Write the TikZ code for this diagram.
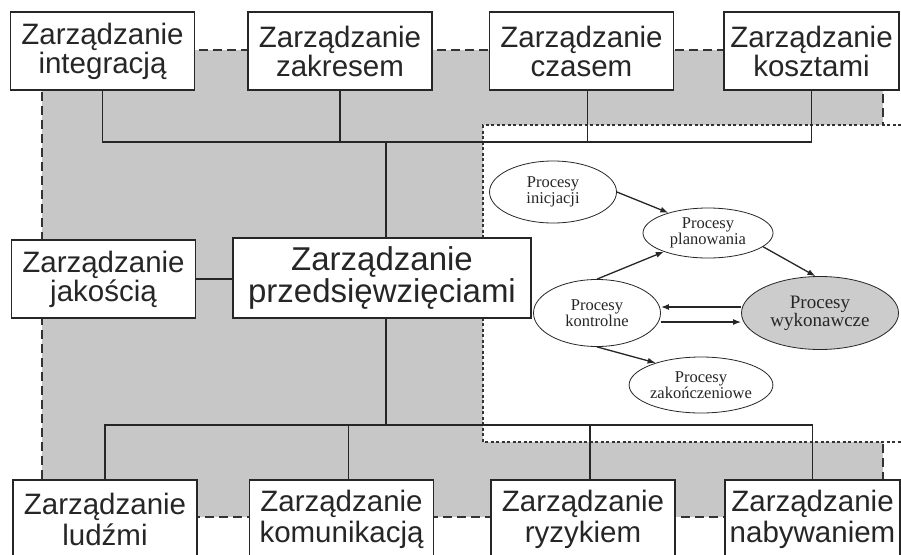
\documentclass[tikz,border=0pt]{standalone}
\usepackage{fontspec}
\setmainfont{Liberation Sans}
\newfontfamily\procfont{Liberation Serif}
\usetikzlibrary{arrows.meta,shapes.geometric}

\begin{document}
\begin{tikzpicture}[x=1pt, y=-1pt,
      box/.style={draw=black!85, line width=1.7pt, fill=white, text=black!85,
                  align=center, inner sep=0pt, minimum width=184pt, minimum height=78pt,
                  font=\fontsize{29.5}{29}\selectfont},
      bigbox/.style={box, minimum width=298pt, minimum height=80pt,
                  font=\fontsize{33}{32}\selectfont},
      proc/.style={ellipse, draw=black!85, line width=0.8pt, fill=white, text=black!85,
                  align=center, inner sep=0pt, font=\procfont\fontsize{16.5}{16}\selectfont},
      link/.style={draw=black!85, line width=1.7pt},
      arr/.style={-{Latex[length=8pt, width=6pt]}, draw=black!85, line width=1.3pt},
      greyarea/.style={fill=black!22, draw=black!80, dash pattern=on 9pt off 5pt, line width=1.4pt},
      cutout/.style={draw=black!80, dash pattern=on 3pt off 2.5pt, line width=1.1pt}]
    \useasboundingbox (0,0) rectangle (901,554);
    % shaded field, white part for the processes
    \draw[greyarea] (42,50) rectangle (883,517);
    \fill[white] (483,125) rectangle (901,442);
    \draw[cutout] (901,125) -- (483,125) -- (483,442) -- (901,442);

    \node[box] (integr) at (102.5,51) {Zarządzanie\\integracją};
    \node[box] (zakres) at (340,51) {Zarządzanie\\zakresem};
    \node[box] (czas) at (581.5,51) {Zarządzanie\\czasem};
    \node[box, minimum width=175pt] (koszt) at (811.5,51) {Zarządzanie\\kosztami};
    \node[box] (jakosc) at (103.5,279) {Zarządzanie\\jakością};
    \node[bigbox] (centre) at (382,278) {Zarządzanie\\przedsięwzięciami};
    \node[box, font=\fontsize{29.5}{31}\selectfont] (ludzie) at (105,519) {Zarządzanie\\ludźmi};
    \node[box, font=\fontsize{29.5}{31}\selectfont] (komun) at (341.5,519) {Zarządzanie\\komunikacją};
    \node[box, font=\fontsize{29.5}{31}\selectfont] (ryzyk) at (583,519) {Zarządzanie\\ryzykiem};
    \node[box, minimum width=175pt, font=\fontsize{29.5}{31}\selectfont] (nabyw) at (812.5,519)
      {Zarządzanie\\nabywaniem};

    \coordinate (topbus) at (0,142);
    \coordinate (botbus) at (0,425);
    \draw[link] (integr.south) |- (koszt.south |- topbus) -- (koszt.south);
    \draw[link] (zakres.south) -- (zakres.south |- topbus);
    \draw[link] ([xshift=6pt]czas.south) -- ([xshift=6pt]czas.south |- topbus);
    \draw[link] ([xshift=4pt]centre.north) -- ([xshift=4pt]centre.north |- topbus);
    \draw[link] ([xshift=4pt]centre.south) -- ([xshift=4pt]centre.south |- botbus);
    \draw[link] (ludzie.north) |- (nabyw.north |- botbus) -- (nabyw.north);
    \draw[link] ([xshift=7pt]komun.north) -- ([xshift=7pt]komun.north |- botbus);
    \draw[link] ([xshift=7pt]ryzyk.north) -- ([xshift=7pt]ryzyk.north |- botbus);
    \draw[link] (jakosc.east) -- (jakosc.east -| centre.west);

    % process cycle
    \node[proc, minimum width=127pt, minimum height=62pt] (inic) at (553,192) {Procesy\\inicjacji};
    \node[proc, minimum width=130pt, minimum height=50pt] (plan) at (708,233) {Procesy\\planowania};
    \node[proc, minimum width=127pt, minimum height=67pt] (kontr) at (597,313) {Procesy\\kontrolne};
    \node[proc, fill=black!20, minimum width=157pt, minimum height=73pt,
          font=\procfont\fontsize{19}{18}\selectfont] (wykon) at (820,313) {Procesy\\wykonawcze};
    \node[proc, minimum width=129pt, minimum height=56pt] (zakon) at (701,385) {Procesy\\zakończeniowe};
    \draw[arr] (inic.east) -- (plan.153);
    \draw[arr] (plan.-14) -- (wykon.97);
    \draw[arr] (kontr.north) -- (plan.203);
    \draw[arr] ([yshift=6pt]wykon.west) -- ([yshift=6pt]kontr.east);
    \draw[arr] ([yshift=-9pt]kontr.east) -- ([yshift=-9pt]wykon.west);
    \draw[arr] (kontr.south) -- (zakon.154);
  \end{tikzpicture}
\end{document}
